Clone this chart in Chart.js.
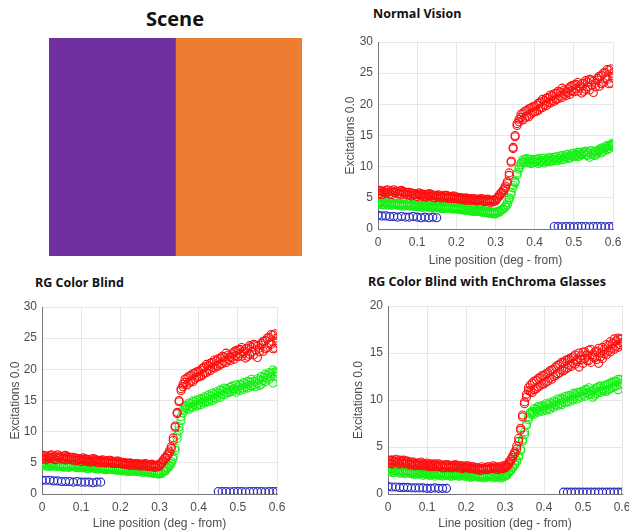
<!DOCTYPE html>
<html>
<head>
<meta charset="utf-8">
<script src="https://cdn.jsdelivr.net/npm/chart.js@4.4.1/dist/chart.umd.min.js"></script>
<style>
  body { margin: 0; background: #fff; width: 629px; height: 531px; position: relative; overflow: hidden; }
  canvas { position: absolute; }
  .ttl { position: absolute; font-family: "Open Sans"; font-weight: 700; color: #111; white-space: nowrap; line-height: 1; }
</style>
</head>
<body>
<div class="ttl" style="left:75px;top:9px;width:200px;text-align:center;font-size:20px">Scene</div>
<div class="ttl" style="left:373px;top:8px;font-size:12.5px">Normal Vision</div>
<div class="ttl" style="left:35px;top:277px;font-size:12.5px">RG Color Blind</div>
<div class="ttl" style="left:368px;top:276px;font-size:12.5px">RG Color Blind with EnChroma Glasses</div>

<canvas id="scene" width="270" height="230" style="left:40px;top:30px"></canvas>
<canvas id="normal" width="290" height="242" style="left:335px;top:30px"></canvas>
<canvas id="colorBlind" width="300" height="236" style="left:0px;top:295px"></canvas>
<canvas id="enchroma" width="286" height="237" style="left:343px;top:294px"></canvas>

<script>
// scene halves
const sceneLabels = ['Purple', 'Orange'];
const sceneWidths = [1, 1];
const sceneColors = ['#7030a0', '#ed7d31'];

// line positions (deg) for L and M cone samples
const xPos = [
  0, 0.005, 0.01, 0.015, 0.02, 0.025, 0.03, 0.035, 0.04, 0.045,
  0.05, 0.055, 0.06, 0.065, 0.07, 0.075, 0.08, 0.085, 0.09, 0.095,
  0.1, 0.105, 0.11, 0.115, 0.12, 0.125, 0.13, 0.135, 0.14, 0.145,
  0.15, 0.155, 0.16, 0.165, 0.17, 0.175, 0.18, 0.185, 0.19, 0.195,
  0.2, 0.205, 0.21, 0.215, 0.22, 0.225, 0.23, 0.235, 0.24, 0.245,
  0.25, 0.255, 0.26, 0.265, 0.27, 0.275, 0.28, 0.285, 0.29, 0.295,
  0.3, 0.305, 0.31, 0.315, 0.32, 0.325, 0.33, 0.335, 0.34, 0.345,
  0.35, 0.355, 0.36, 0.365, 0.37, 0.375, 0.38, 0.385, 0.39, 0.395,
  0.4, 0.405, 0.41, 0.415, 0.42, 0.425, 0.43, 0.435, 0.44, 0.445,
  0.45, 0.455, 0.46, 0.465, 0.47, 0.475, 0.48, 0.485, 0.49, 0.495,
  0.5, 0.505, 0.51, 0.515, 0.52, 0.525, 0.53, 0.535, 0.54, 0.545,
  0.55, 0.555, 0.56, 0.565, 0.57, 0.575, 0.58, 0.585, 0.59, 0.595,
  0.6
];
// S cone samples only exist on two stretches
const xS1 = [0, 0.01, 0.02, 0.03, 0.04, 0.05, 0.06, 0.07, 0.08, 0.09, 0.1, 0.11, 0.12, 0.13, 0.14, 0.15];
const xS2 = [0.45, 0.46, 0.47, 0.48, 0.49, 0.5, 0.51, 0.52, 0.53, 0.54, 0.55, 0.56, 0.57, 0.58, 0.59, 0.6];

// Normal Vision (two samples per position)
const normalL = [
  6.0, 5.7, 6.1, 5.8, 6.2, 5.9, 5.6, 6.1, 6.3, 5.8,
  6.0, 5.7, 6.2, 5.8, 5.6, 5.9, 5.5, 5.8, 5.4, 5.7,
  5.5, 5.8, 5.3, 5.6, 5.2, 5.5, 5.7, 5.3, 5.1, 5.4,
  5.2, 5.5, 5.0, 5.3, 5.1, 5.4, 4.9, 5.2, 5.0, 5.3,
  4.9, 5.1, 4.8, 5.0, 4.7, 5.0, 4.8, 4.6, 4.9, 4.7,
  4.5, 4.8, 4.6, 4.9, 4.7, 4.4, 4.8, 4.6, 4.3, 4.7,
  4.5, 4.9, 5.3, 5.7, 6.1, 6.6, 7.3, 8.6, 10.7, 12.9,
  15.0, 16.6, 17.6, 18.4, 17.5, 18.9, 18.1, 19.3, 18.4, 19.6,
  18.8, 19.9, 19.1, 20.4, 19.5, 20.6, 19.8, 21.1, 20.2, 21.4,
  20.5, 21.8, 20.9, 22.0, 21.1, 22.3, 21.4, 22.5, 21.6, 23.0,
  22.0, 23.2, 22.1, 22.9, 21.8, 23.4, 22.4, 23.6, 22.3, 23.9,
  21.9, 23.4, 24.2, 22.9, 24.6, 23.5, 25.1, 24.0, 25.5, 23.4,
  25.0
];
const normalL2 = [
  5.6, 6.2, 5.5, 6.0, 5.7, 6.3, 6.0, 5.5, 5.9, 6.1,
  5.6, 6.1, 5.5, 6.0, 5.9, 5.5, 5.9, 5.3, 5.7, 5.5,
  5.2, 5.5, 5.6, 5.2, 5.5, 5.1, 5.3, 5.6, 5.4, 5.0,
  5.4, 5.1, 5.3, 5.0, 5.4, 5.0, 5.2, 4.9, 5.3, 4.9,
  5.1, 4.8, 5.0, 4.7, 4.9, 4.6, 4.9, 4.8, 4.6, 4.9,
  4.7, 4.5, 4.8, 4.5, 4.4, 4.7, 4.5, 4.3, 4.6, 4.4,
  4.7, 5.1, 5.5, 5.9, 6.3, 6.9, 7.6, 9.0, 10.9, 13.1,
  14.8, 16.9, 17.2, 17.9, 18.6, 17.8, 19.0, 18.0, 19.4, 18.7,
  19.7, 18.9, 20.2, 19.4, 20.8, 19.9, 21.0, 20.3, 21.5, 20.6,
  21.7, 20.8, 22.1, 21.3, 22.6, 21.6, 22.0, 21.9, 22.8, 22.2,
  23.1, 22.5, 23.5, 22.6, 23.3, 22.1, 23.8, 22.8, 24.0, 23.1,
  23.7, 22.8, 23.9, 24.5, 23.3, 25.0, 24.1, 25.6, 23.3, 25.7,
  24.2
];
const normalM = [
  4.2, 4.0, 4.3, 3.9, 4.2, 4.0, 4.3, 3.8, 4.1, 3.9,
  4.1, 3.8, 4.0, 3.7, 4.0, 3.8, 4.1, 3.7, 3.9, 3.6,
  3.9, 3.6, 3.8, 3.5, 3.8, 3.6, 3.9, 3.5, 3.7, 3.4,
  3.7, 3.4, 3.6, 3.3, 3.6, 3.4, 3.7, 3.3, 3.5, 3.2,
  3.5, 3.2, 3.4, 3.1, 3.3, 3.0, 3.3, 3.1, 2.9, 3.2,
  2.9, 3.1, 2.8, 3.0, 2.7, 2.9, 2.6, 2.8, 2.5, 2.7,
  2.4, 2.7, 2.9, 3.0, 3.2, 3.5, 3.9, 4.7, 5.5, 6.6,
  7.4, 8.7, 9.6, 10.3, 10.8, 11.2, 10.6, 11.1, 10.5, 11.0,
  10.7, 11.2, 10.5, 10.9, 11.3, 10.6, 11.0, 11.4, 10.8, 11.2,
  11.5, 11.0, 11.3, 11.7, 11.1, 11.5, 11.9, 11.3, 11.7, 12.1,
  11.6, 12.0, 12.3, 11.7, 12.1, 12.4, 11.9, 12.2, 11.5, 12.0,
  12.3, 11.8, 12.4, 12.8, 12.2, 12.9, 13.2, 12.7, 13.3, 13.6,
  13.5
];
const normalM2 = [
  4.0, 4.3, 3.9, 4.2, 4.1, 3.8, 4.0, 4.2, 3.9, 4.1,
  3.8, 4.1, 3.7, 4.0, 3.8, 4.1, 3.7, 3.9, 3.7, 3.9,
  3.6, 3.8, 3.5, 3.7, 3.6, 3.8, 3.4, 3.7, 3.5, 3.6,
  3.4, 3.6, 3.3, 3.5, 3.3, 3.6, 3.3, 3.5, 3.2, 3.4,
  3.2, 3.4, 3.1, 3.3, 3.0, 3.2, 3.0, 2.9, 3.1, 2.8,
  3.0, 2.8, 3.0, 2.7, 2.9, 2.6, 2.8, 2.5, 2.7, 2.4,
  2.6, 2.8, 2.7, 3.1, 3.3, 3.7, 4.2, 5.0, 5.9, 7.0,
  7.6, 9.0, 9.9, 10.6, 11.1, 10.7, 11.3, 10.8, 11.2, 10.6,
  11.1, 10.8, 11.3, 10.7, 11.0, 11.4, 10.8, 11.1, 11.5, 10.9,
  11.2, 11.6, 11.0, 11.4, 11.8, 11.2, 11.6, 12.0, 11.4, 11.8,
  12.2, 11.8, 11.6, 12.3, 11.9, 12.2, 12.5, 11.8, 12.4, 12.6,
  11.9, 12.5, 12.1, 12.6, 13.0, 12.5, 13.0, 13.4, 12.9, 13.3,
  13.8
];
const normalS1 = [2.2, 2.1, 2.1, 2.0, 2.0, 1.9, 2.0, 1.9, 1.9, 2.0, 1.9, 1.8, 1.9, 1.8, 1.9, 1.8];
const normalS2 = [0.4, 0.4, 0.35, 0.4, 0.4, 0.35, 0.4, 0.4, 0.4, 0.35, 0.4, 0.4, 0.4, 0.35, 0.4, 0.4];

// RG Color Blind (L response is the same as normal vision)
const blindL = normalL;
const blindL2 = normalL2;
const blindM = [
  4.8, 4.6, 4.9, 4.5, 4.8, 4.6, 4.9, 4.5, 4.7, 4.4,
  4.7, 4.4, 4.6, 4.3, 4.6, 4.4, 4.7, 4.3, 4.5, 4.2,
  4.5, 4.2, 4.4, 4.1, 4.4, 4.2, 4.5, 4.1, 4.3, 4.0,
  4.3, 4.0, 4.2, 3.9, 4.2, 4.0, 4.3, 3.9, 4.1, 3.8,
  4.1, 3.8, 4.0, 3.7, 3.9, 3.6, 3.9, 3.7, 4.0, 3.6,
  3.8, 3.5, 3.7, 3.9, 3.5, 3.7, 3.4, 3.6, 3.3, 3.5,
  3.2, 3.4, 3.6, 3.9, 4.1, 4.4, 4.9, 5.6, 7.0, 8.9,
  10.2, 11.8, 13.0, 13.8, 14.2, 13.6, 14.5, 13.9, 14.8, 14.1,
  15.0, 14.3, 15.2, 14.6, 15.5, 14.8, 15.7, 15.0, 16.0, 15.3,
  16.2, 15.5, 16.6, 15.9, 16.9, 16.2, 17.1, 16.5, 16.9, 16.3,
  17.2, 16.6, 17.5, 16.8, 17.7, 17.0, 17.9, 17.3, 18.1, 17.2,
  17.7, 18.3, 17.6, 18.7, 18.0, 19.0, 18.4, 19.3, 17.8, 19.6,
  19.3
];
const blindM2 = [
  4.6, 4.9, 4.5, 4.8, 4.4, 4.7, 4.5, 4.8, 4.4, 4.7,
  4.5, 4.3, 4.7, 4.5, 4.3, 4.6, 4.4, 4.6, 4.2, 4.5,
  4.3, 4.5, 4.2, 4.4, 4.1, 4.3, 4.2, 4.4, 4.0, 4.2,
  4.1, 4.3, 3.9, 4.1, 4.0, 4.2, 3.9, 4.1, 3.8, 4.0,
  3.9, 3.7, 3.8, 3.9, 3.6, 3.8, 3.7, 3.9, 3.6, 3.8,
  3.6, 3.8, 3.5, 3.6, 3.8, 3.4, 3.6, 3.3, 3.5, 3.2,
  3.4, 3.3, 3.8, 3.7, 4.3, 4.6, 5.2, 6.0, 7.4, 9.4,
  10.8, 12.4, 13.4, 14.1, 13.7, 14.6, 14.0, 14.9, 14.3, 15.1,
  14.4, 15.3, 14.7, 15.6, 14.9, 15.9, 15.2, 16.2, 15.4, 16.4,
  15.7, 16.7, 16.0, 17.0, 16.3, 16.8, 16.4, 17.3, 16.6, 17.5,
  16.8, 17.6, 17.0, 17.9, 17.2, 18.1, 17.4, 18.4, 17.5, 18.0,
  18.5, 17.4, 18.9, 18.2, 19.2, 18.6, 19.5, 18.8, 19.9, 18.9,
  19.6
];
const blindS1 = [2.2, 2.2, 2.2, 2.1, 2.1, 2.0, 2.0, 2.0, 1.9, 2.0, 1.9, 1.9, 1.9, 1.8, 1.9, 1.9];
const blindS2 = [0.4, 0.4, 0.4, 0.35, 0.4, 0.4, 0.4, 0.35, 0.4, 0.4, 0.4, 0.4, 0.35, 0.4, 0.4, 0.4];

// RG Color Blind with EnChroma Glasses
const glassesL = [
  3.5, 3.3, 3.6, 3.4, 3.5, 3.3, 3.6, 3.4, 3.2, 3.5,
  3.3, 3.1, 3.4, 3.2, 3.0, 3.3, 3.1, 3.4, 3.0, 3.2,
  3.1, 2.9, 3.2, 3.0, 3.1, 2.9, 3.2, 3.0, 2.8, 3.1,
  2.9, 3.1, 2.8, 3.0, 2.9, 3.1, 2.8, 3.0, 2.7, 2.9,
  3.0, 2.8, 2.9, 2.7, 2.9, 2.6, 2.8, 2.5, 2.7, 2.6,
  2.8, 2.6, 2.9, 2.7, 3.0, 2.8, 2.6, 2.9, 2.7, 3.0,
  2.8, 3.1, 3.4, 3.7, 3.9, 4.3, 4.8, 5.6, 6.8, 8.2,
  9.6, 10.3, 11.0, 11.6, 10.8, 12.0, 11.2, 12.3, 11.5, 12.6,
  11.7, 12.8, 12.0, 13.1, 12.2, 13.3, 12.6, 13.7, 12.9, 14.0,
  13.1, 14.2, 13.4, 14.4, 13.6, 14.6, 13.8, 14.3, 13.5, 14.7,
  13.9, 15.1, 14.2, 15.3, 14.0, 14.8, 14.5, 15.2, 13.9, 15.0,
  14.4, 15.4, 14.8, 15.8, 15.1, 16.0, 15.4, 16.3, 15.6, 16.5,
  16.1
];
const glassesL2 = [
  3.3, 3.6, 3.2, 3.5, 3.7, 3.4, 3.2, 3.5, 3.6, 3.3,
  3.5, 3.3, 3.1, 3.4, 3.2, 3.1, 3.3, 3.0, 3.2, 3.0,
  3.3, 3.0, 3.1, 2.9, 3.2, 3.0, 2.9, 3.1, 3.0, 2.8,
  3.1, 2.9, 3.0, 2.8, 3.1, 2.9, 3.0, 2.8, 3.0, 2.8,
  2.8, 3.0, 2.7, 2.9, 2.7, 2.8, 2.6, 2.7, 2.9, 2.7,
  2.6, 2.9, 2.7, 2.8, 2.7, 2.9, 2.8, 2.7, 2.9, 2.7,
  3.0, 2.9, 3.2, 3.5, 4.1, 4.5, 5.1, 5.9, 7.0, 8.4,
  9.8, 10.6, 11.3, 10.9, 11.8, 11.1, 12.1, 11.4, 12.4, 11.7,
  12.6, 11.9, 12.9, 12.3, 13.2, 12.5, 13.5, 12.8, 13.8, 13.2,
  14.0, 13.3, 14.3, 13.7, 14.5, 13.9, 14.8, 14.1, 15.0, 14.3,
  15.1, 14.4, 14.8, 14.2, 15.4, 14.6, 15.1, 14.3, 15.5, 14.6,
  15.6, 14.9, 15.9, 15.2, 16.2, 15.5, 16.5, 15.7, 16.6, 15.9,
  16.5
];
const glassesM = [
  2.6, 2.4, 2.7, 2.3, 2.5, 2.3, 2.6, 2.4, 2.2, 2.5,
  2.3, 2.5, 2.2, 2.4, 2.1, 2.3, 2.4, 2.2, 2.0, 2.3,
  2.1, 2.3, 2.0, 2.2, 2.1, 2.3, 2.0, 2.2, 1.9, 2.1,
  2.2, 2.0, 2.1, 1.9, 2.2, 2.0, 2.1, 1.9, 2.0, 2.2,
  1.9, 2.1, 1.8, 2.0, 1.9, 2.1, 1.8, 2.0, 1.9, 1.7,
  2.0, 1.8, 2.1, 1.9, 1.7, 2.0, 1.8, 2.1, 1.9, 1.8,
  1.9, 2.1, 2.3, 2.6, 2.8, 3.1, 3.4, 3.9, 4.6, 5.6,
  6.3, 7.4, 7.9, 8.5, 8.8, 8.5, 9.0, 8.7, 9.2, 8.8,
  9.3, 8.9, 9.5, 9.0, 9.6, 9.2, 9.8, 9.4, 10.0, 9.5,
  10.1, 9.7, 10.3, 9.8, 10.4, 10.0, 10.6, 10.1, 10.8, 10.3,
  10.9, 10.4, 11.1, 10.6, 10.9, 10.3, 11.2, 10.7, 11.4, 10.8,
  11.0, 11.5, 10.9, 11.7, 11.2, 11.9, 11.4, 12.0, 11.1, 12.2,
  11.8
];
const glassesM2 = [
  2.4, 2.6, 2.3, 2.5, 2.6, 2.4, 2.2, 2.5, 2.4, 2.2,
  2.4, 2.2, 2.4, 2.1, 2.3, 2.2, 2.1, 2.3, 2.2, 2.1,
  2.3, 2.0, 2.2, 2.1, 1.9, 2.1, 2.2, 2.0, 2.2, 2.0,
  2.0, 2.2, 1.9, 2.1, 2.0, 2.2, 1.9, 2.1, 2.2, 1.9,
  2.1, 1.9, 2.0, 1.8, 2.1, 1.9, 2.0, 1.8, 2.1, 1.9,
  1.8, 2.0, 1.9, 2.1, 1.9, 1.8, 2.0, 1.9, 1.7, 2.0,
  2.0, 2.0, 2.4, 2.5, 2.9, 3.2, 3.6, 4.1, 4.8, 5.8,
  6.6, 7.3, 8.2, 8.7, 8.6, 9.1, 8.8, 9.3, 8.9, 9.4,
  9.0, 9.6, 9.1, 9.7, 9.3, 9.9, 9.5, 10.1, 9.6, 10.2,
  9.8, 10.4, 9.9, 10.5, 10.1, 10.7, 10.3, 10.8, 10.4, 10.9,
  10.6, 11.1, 10.8, 11.3, 10.6, 11.0, 10.5, 11.3, 10.9, 11.5,
  11.2, 11.0, 11.6, 11.1, 11.8, 11.3, 12.0, 11.5, 12.2, 11.6,
  12.1
];
const glassesS1 = [0.8, 0.75, 0.75, 0.7, 0.7, 0.7, 0.65, 0.65, 0.65, 0.65, 0.6, 0.6, 0.65, 0.6, 0.6, 0.6];
const glassesS2 = [0.2, 0.2, 0.2, 0.2, 0.2, 0.2, 0.2, 0.2, 0.2, 0.2, 0.2, 0.2, 0.2, 0.2, 0.2, 0.2];

const red = 'rgb(255,15,15)';
const green = 'rgb(20,240,20)';
const blue = 'rgb(40,40,190)';

Chart.defaults.font.family = '"Liberation Sans", Arial, sans-serif';
Chart.defaults.font.size = 12;
Chart.defaults.color = '#4d4d4d';

new Chart(document.getElementById('scene'), {
    type: 'bar',
    data: {
        labels: ['Scene'],
        datasets: sceneLabels.map((name, i) => ({
            label: name,
            data: [sceneWidths[i]],
            backgroundColor: sceneColors[i],
            borderWidth: 0,
            barPercentage: 1,
            categoryPercentage: 1,
        })),
    },
    options: {
        indexAxis: 'y',
        animation: false,
        responsive: false,
        devicePixelRatio: 1,
        layout: { padding: { left: 9, right: 8, top: 8, bottom: 4 } },
        plugins: { legend: { display: false }, tooltip: { enabled: false } },
        scales: {
            x: { stacked: true, min: 0, max: 2, display: false },
            y: { stacked: true, display: false },
        },
    },
});

function points(xs, ys) {
    return xs.map((x, i) => ({ x: x, y: ys[i] }));
}

function series(name, data, color) {
    return {
        label: name,
        data: data,
        borderColor: color,
        backgroundColor: 'rgba(0,0,0,0)',
        pointRadius: 4,
        pointBorderWidth: 1.1,
        pointHoverRadius: 4,
    };
}

function loadPanel(id, yMax, L, L2, M, M2, S1, S2, box) {
    new Chart(document.getElementById(id), {
        type: 'scatter',
        data: {
            datasets: [
                series('L', points(xPos, L), red),
                series('L', points(xPos, L2), red),
                series('M', points(xPos, M), green),
                series('M', points(xPos, M2), green),
                series('S', points(xS1, S1), blue),
                series('S', points(xS2, S2), blue),
            ],
        },
        options: {
            animation: false,
            responsive: false,
            devicePixelRatio: 1,
            layout: { padding: { top: box.top, right: box.right, left: 0, bottom: 0 } },
            plugins: { legend: { display: false }, tooltip: { enabled: false } },
            scales: {
                x: {
                    type: 'linear',
                    min: 0,
                    max: 0.6,
                    ticks: {
                        stepSize: 0.1,
                        padding: 6,
                        maxRotation: 0,
                        callback: v => (v === 0 ? '0' : v.toFixed(1)),
                    },
                    grid: { color: '#e6e6e6', drawTicks: false },
                    border: { color: '#777' },
                    title: {
                        display: true,
                        text: 'Line position (deg - from)',
                        padding: { top: 0, bottom: box.xTitle },
                    },
                    afterFit: s => {
                        s.height = box.xHeight;
                        s.paddingLeft = 0;
                        s.paddingRight = 0;
                    },
                },
                y: {
                    min: 0,
                    max: yMax,
                    ticks: { stepSize: 5, padding: 5 },
                    grid: { color: '#e6e6e6', drawTicks: false },
                    border: { color: '#777' },
                    title: {
                        display: true,
                        text: 'Excitations 0.0',
                        padding: { top: 8, bottom: 0 },
                    },
                    afterFit: s => {
                        s.width = box.yWidth;
                        s.paddingTop = 0;
                        s.paddingBottom = 0;
                    },
                },
            },
        },
    });
}

loadPanel('normal', 30, normalL, normalL2, normalM, normalM2, normalS1, normalS2,
    { top: 12, right: 12, yWidth: 43, xHeight: 43, xTitle: 4 });
loadPanel('colorBlind', 30, blindL, blindL2, blindM, blindM2, blindS1, blindS2,
    { top: 12, right: 23, yWidth: 42, xHeight: 37, xTitle: 0 });
loadPanel('enchroma', 20, glassesL, glassesL2, glassesM, glassesM2, glassesS1, glassesS2,
    { top: 12, right: 7, yWidth: 45, xHeight: 37, xTitle: 0 });
</script>
</body>
</html>
